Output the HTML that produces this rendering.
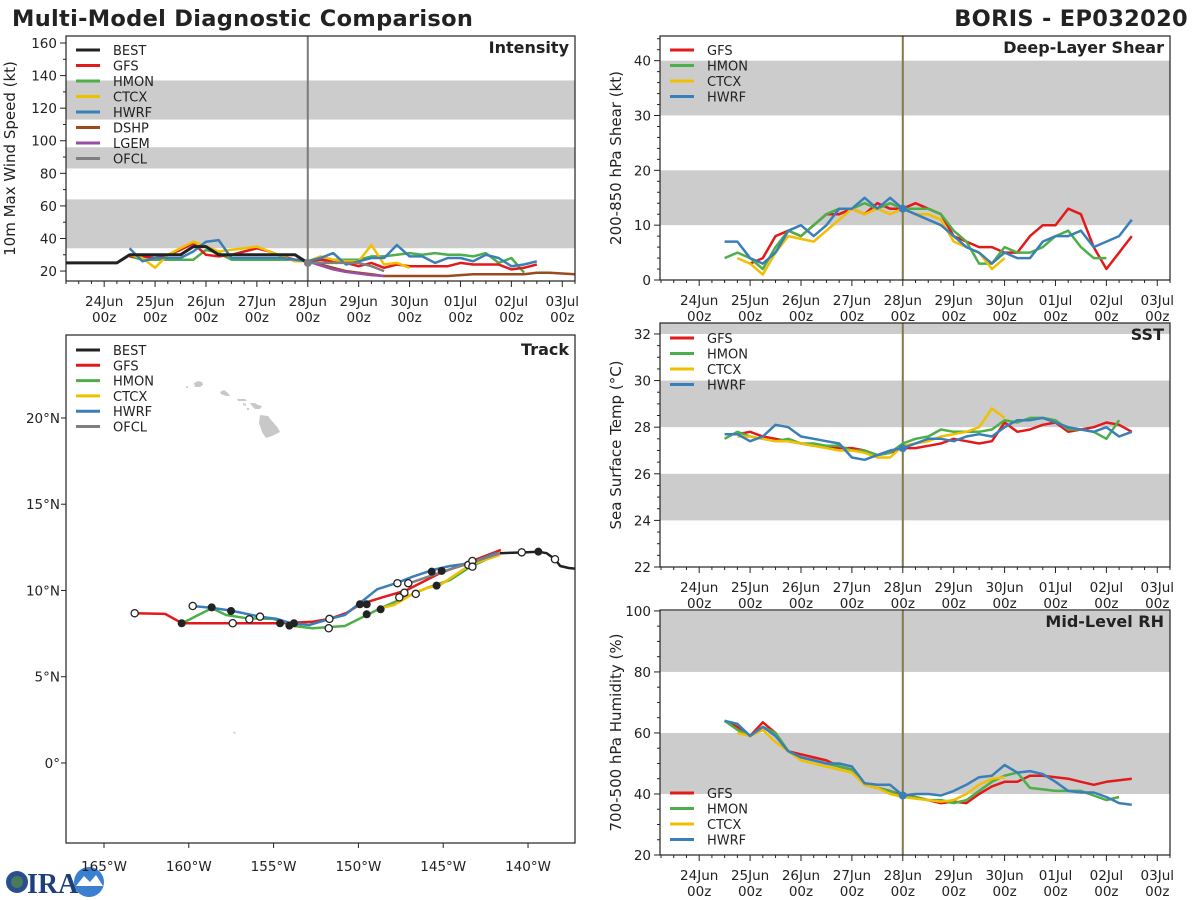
<!DOCTYPE html>
<html><head><meta charset="utf-8"><style>
html,body{margin:0;padding:0;background:#fff;}
svg{display:block;font-family:"DejaVu Sans","Liberation Sans",sans-serif;}
</style></head><body>
<svg id="c" width="1200" height="900" viewBox="0 0 1200 900" xmlns="http://www.w3.org/2000/svg">
<text x="12" y="26" font-size="22.5" font-weight="bold" fill="#222" letter-spacing="0.3">Multi-Model Diagnostic Comparison</text>
<text x="1188" y="26" font-size="22.5" font-weight="bold" fill="#222" text-anchor="end" letter-spacing="0.3">BORIS - EP032020</text>
<g>
<circle cx="17" cy="882" r="11" fill="#2a4f8f"/><circle cx="17" cy="882" r="6" fill="#4a7a5a"/>
<text x="27" y="893" font-size="28" font-weight="bold" fill="#1e3f7a" font-family="Liberation Serif,serif">IRA</text>
<circle cx="89" cy="882" r="15" fill="#3b7fd0"/><path d="M76 886 L84 876 L90 882 L96 875 L103 886 Z" fill="#fff"/>
</g>
</svg>
<script>
// ---------- DATA ----------
const dayLabels=["24Jun","25Jun","26Jun","27Jun","28Jun","29Jun","30Jun","01Jul","02Jul","03Jul"];
const modelNames=["BEST","GFS","HMON","CTCX","HWRF","DSHP","LGEM","OFCL"];
const modelColors={BEST:"#222222",GFS:"#e31a1c",HMON:"#4daf4a",CTCX:"#f2bf00",HWRF:"#3a7fb8",DSHP:"#9a4a1e",LGEM:"#984ea3",OFCL:"#7f7f7f"};
// intensity (kt), series step = 6h, [start day, values]
const intBEST=[-0.75,[25,25,25,25,25,30,30,30,30,30,35,35,30,30,30,30,30,30,30,25]];
const intGFS=[0.5,[29,29,28,30,33,37,30,29,30,32,34,32,29,27,26,27,26,25,23,25,22,24,23,23,23,23,25,24,24,24,21,22,24]];
const intHMON=[0.5,[29,27,27,27,27,27,33,31,27,27,27,27,27,27,26,27,27,27,27,29,29,30,31,30,31,30,30,29,31,25,28,19]];
const intCTCX=[0.5,[30,28,22,30,34,38,35,32,33,34,35,32,29,26,26,29,27,26,26,36,24,25,22]];
const intHWRF=[0.5,[34,26,28,28,28,32,38,39,28,28,28,28,28,27,26,28,31,24,26,28,28,36,29,29,25,28,28,26,30,28,23,24,26]];
const intDSHP=[4,[26,24,22,20,19,18,17,17,17,17,17,17,17.5,18,18,18,18,18,19,19,18.5,18,18,19,20,20,20]];
const intLGEM=[4,[26,23.5,21,19.5,18.5,17.5,17]];
const intOFCL=[4,[25,25,25,25,25,23,20]];
// shear (kt)
const shrGFS=[1,[3,4,8,9,8,10,12,12,13,12,14,13,13,14,13,12,8,7,6,6,5,5,8,10,10,13,12,6,2,5,8]];
const shrHMON=[0.5,[4,5,4,2,6,9,8,10,12,13,13,14,13,14,13,13,13,12,9,7,3,3,6,5,5,6,8,9,6,4,4]];
const shrCTCX=[0.75,[4,3,1,5,8,7.5,7,9,11,13,12,13,12,13,12,12,11,7,6,5,2,4]];
const shrHWRF=[0.5,[7,7,4,3,5,9,10,8,10,13,13,15,13,15,13,12,11,10,8,6,5,3,5,4,4,7,8,8,9,6,7,8,11]];
// SST (C)
const sstGFS=[0.75,[27.7,27.8,27.6,27.5,27.4,27.3,27.2,27.2,27.1,27.1,27.0,26.8,26.9,27.1,27.1,27.2,27.3,27.5,27.4,27.3,27.4,28.2,27.8,27.9,28.1,28.2,27.8,27.9,28.0,28.2,28.1,27.8]];
const sstHMON=[0.5,[27.5,27.8,27.6,27.5,27.4,27.5,27.3,27.3,27.2,27.2,27.0,27.0,26.8,26.9,27.3,27.5,27.6,27.9,27.8,27.8,27.8,27.9,28.3,28.2,28.4,28.4,28.3,27.9,27.9,27.8,27.5,28.3]];
const sstCTCX=[0.75,[27.6,27.6,27.5,27.4,27.4,27.3,27.2,27.1,27.0,27.0,26.9,26.7,26.7,27.2,27.3,27.4,27.6,27.7,27.8,28.0,28.8,28.4]];
const sstHWRF=[0.5,[27.7,27.7,27.4,27.6,28.1,28.0,27.6,27.5,27.4,27.3,26.7,26.6,26.8,27.0,27.1,27.3,27.5,27.5,27.4,27.6,27.7,27.6,28.0,28.3,28.3,28.4,28.2,28.0,27.9,27.8,28.0,27.6,27.8]];
// RH (%)
const rhGFS=[0.5,[64,62,59,63.5,60,54,53,52,51,49,48,43,42,41,39.5,39,38,37,37.5,37,40,42.5,44,44,46,46,45.5,45,44,43,44,44.5,45]];
const rhHMON=[0.5,[64,61,59,62,60,54,52,51,50,49,48,43,42,41,39,39,38,38,37,38,41,44,46,47,42,41.5,41,41,41,39.5,38,39]];
const rhCTCX=[0.75,[60,59,61,57,54,51,50,49,48,47,43,42,40,39,38.5,38,37.5,38,40,43,45,45.5]];
const rhHWRF=[0.5,[64,63,59,62,59,54,52,51,50,50,49,43.5,43,43,39.5,40,40,39.5,41,43,45.5,46,49.5,47,47.5,46.5,44,41,40.5,40.5,39,37,36.5]];
// track (lon, lat)
const trkGFS=[[-163.2,8.68],[-161.4,8.64],[-160.4,8.1],[-154.6,8.1],[-153.9,8.13],[-152.7,8.19],[-151.7,8.35],[-150.7,8.7],[-149.9,9.2],[-148.7,9.57],[-147.2,10.0],[-145.2,11.0],[-143.4,11.67],[-141.6,12.35]];
const trkHWRF=[[-159.8,9.1],[-158.7,9.0],[-157.5,8.83],[-155.8,8.48],[-154.8,8.35],[-154.0,8.1],[-152.9,8.0],[-151.7,8.35],[-150.8,8.58],[-149.9,9.28],[-148.9,10.07],[-147.7,10.45],[-146.8,10.8],[-145.6,11.19],[-144.6,11.42],[-143.4,11.58],[-141.85,12.19]];
const trkHMON=[[-160.4,8.1],[-158.65,8.97],[-157.8,8.58],[-156.6,8.39],[-155.0,8.35],[-153.8,7.94],[-152.7,7.81],[-150.8,7.94],[-149.5,8.58],[-148.7,8.97],[-147.35,9.55],[-146.0,10.13],[-144.6,10.6],[-143.4,11.38],[-141.65,12.16]];
const trkCTCX=[[-148.7,8.97],[-147.9,9.16],[-146.8,9.8],[-146.0,10.13],[-145.2,10.3],[-143.4,11.5],[-141.65,12.06]];
const trkOFCL=[[-147.05,10.4],[-145.2,11.03],[-143.4,11.6],[-141.65,12.16]];
const trkBEST=[[-141.65,12.16],[-140.4,12.2],[-139.4,12.25],[-138.9,12.16],[-138.4,11.8],[-138.1,11.42],[-137.6,11.3],[-136.5,11.2]];
const trkOpen=[[-163.19,8.68],[-159.77,9.10],[-157.41,8.10],[-156.43,8.33],[-155.80,8.48],[-151.71,8.35],[-151.75,7.81],[-147.70,10.42],[-147.06,10.42],[-147.29,9.87],[-147.59,9.60],[-146.62,9.80],[-143.52,11.48],[-143.28,11.71],[-143.28,11.38],[-140.37,12.21],[-138.41,11.81]];
const trkFilled=[[-160.42,8.10],[-158.65,9.02],[-157.51,8.81],[-154.62,8.10],[-154.07,7.96],[-153.80,8.10],[-149.91,9.20],[-149.51,9.20],[-149.51,8.62],[-148.69,8.91],[-145.68,11.09],[-145.09,11.13],[-145.39,10.28],[-139.39,12.25]];
const lonTicks=[-165,-160,-155,-150,-145,-140];
const latTicks=[0,5,10,15,20];

// ---------- DRAW ----------
const NS="http://www.w3.org/2000/svg";
const svg=document.getElementById('c');
function mk(tag,attrs,parent){const e=document.createElementNS(NS,tag);for(const k in attrs)e.setAttribute(k,attrs[k]);(parent||svg).appendChild(e);return e;}
function txt(s,attrs,parent){const e=mk('text',attrs,parent);e.textContent=s;return e;}

function panel(P){
  const g=mk('g',{});
  
  
  const X=d=>P.x0+(d-P.d0)*(P.x1-P.x0)/(P.d1-P.d0);
  const Y=v=>P.y1-(v-P.v0)*(P.y1-P.y0)/(P.v1-P.v0);
  const cid='clip-'+P.name;
  const cp=mk('clipPath',{id:cid},g);mk('rect',{x:P.x0,y:P.y0,width:P.x1-P.x0,height:P.y1-P.y0},cp);
  P.bands.forEach(b=>{
    const r=mk('rect',{x:P.x0,y:Y(Math.min(b[1],P.v1)),width:P.x1-P.x0,height:Y(b[0])-Y(Math.min(b[1],P.v1)),fill:'#cccccc'},g);
    
    
  });
  const vl=mk('line',{x1:X(4),x2:X(4),y1:P.y0,y2:P.y1,stroke:P.vcol,'stroke-width':2},g);
  
  
  const sg=mk('g',{'clip-path':'url(#'+cid+')'},g);
  P.series.forEach(s=>{
    const [d0,vals]=s.data;
    const pts=vals.map((v,i)=>X(d0+i*0.25).toFixed(1)+','+Y(v).toFixed(1)).join(' ');
    const pl=mk('polyline',{points:pts,fill:'none',stroke:modelColors[s.m],'stroke-width':s.m==='BEST'?3:2.5,'stroke-linejoin':'round'},sg);
    
    
  });
  if(P.dot){const c=mk('circle',{cx:X(4),cy:Y(P.dot[0]),r:4,fill:P.dot[1]},g);
    
    }
  mk('rect',{x:P.x0,y:P.y0,width:P.x1-P.x0,height:P.y1-P.y0,fill:'none',stroke:'#222','stroke-width':1.2},g);
  for(let q=Math.ceil(P.d0*4);q<=P.d1*4;q++){const d=q/4,x=X(d);const maj=q%4===0;
    mk('line',{x1:x,x2:x,y1:P.y1,y2:P.y1+(maj?6:3),stroke:'#222'},g);
    if(maj){const i=q/4;const t=txt(dayLabels[i],{x:x,y:P.y1+25,'font-size':13.5,'text-anchor':'middle',fill:'#222'},g);
      
      
      txt('00z',{x:x,y:P.y1+41,'font-size':13.5,'text-anchor':'middle',fill:'#222'},g);}
  }
  for(let v=Math.ceil(P.v0/P.minor)*P.minor;v<=P.v1;v+=P.minor){const y=Y(v);const maj=Math.abs(v/P.major-Math.round(v/P.major))<1e-6;
    mk('line',{x1:P.x0,x2:P.x0-(maj?6:3),y1:y,y2:y,stroke:'#222'},g);
    if(maj){const t=txt(String(v),{x:P.x0-9,y:y+5,'font-size':13.5,'text-anchor':'end',fill:'#222'},g);
      
      }
  }
  const yl=txt(P.ylab,{x:0,y:0,'font-size':15,'text-anchor':'middle',fill:'#222',transform:`translate(${P.ylx},${(P.y0+P.y1)/2}) rotate(-90)`},g);
  
  
  const tt=txt(P.title,{x:P.x1-6,y:P.y0+17,'font-size':16,'font-weight':'bold','text-anchor':'end',fill:'#222'},g);
  
  
  P.legend.forEach((m,i)=>{const ly=P.legY+i*15.5;
    const lg=mk('g',{},g);
    
    
    mk('line',{x1:P.x0+10,x2:P.x0+34,y1:ly,y2:ly,stroke:modelColors[m],'stroke-width':3},lg);
    txt(m,{x:P.x0+47,y:ly+5,'font-size':13,fill:'#222'},lg);
  });
}

panel({name:'intensity-panel',x0:66,x1:575,y0:36,y1:281,d0:-0.75,d1:9.25,v0:13.9,v1:164.3,
  bands:[[34,64],[83,96],[113,137]],vcol:'#7f7a78',major:20,minor:10,
  ylab:'10m Max Wind Speed (kt)',ylx:15,title:'Intensity',legY:50,legend:modelNames,
  series:[{m:'DSHP',data:intDSHP},{m:'LGEM',data:intLGEM},{m:'HMON',data:intHMON},{m:'GFS',data:intGFS},{m:'CTCX',data:intCTCX},{m:'HWRF',data:intHWRF},{m:'OFCL',data:intOFCL},{m:'BEST',data:intBEST}],
  dot:[25,'#7f7f7f']});
panel({name:'shear-panel',x0:660,x1:1170,y0:36,y1:280,d0:-0.77,d1:9.25,v0:0,v1:44.5,
  bands:[[10,20],[30,40]],vcol:'#7f7a4a',major:10,minor:2,
  ylab:'200-850 hPa Shear (kt)',ylx:621,title:'Deep-Layer Shear',legY:50,legend:["GFS","HMON","CTCX","HWRF"],
  series:[{m:'GFS',data:shrGFS},{m:'HMON',data:shrHMON},{m:'CTCX',data:shrCTCX},{m:'HWRF',data:shrHWRF}],
  dot:[13,'#3a7fb8']});
panel({name:'sst-panel',x0:660,x1:1170,y0:323,y1:567,d0:-0.77,d1:9.25,v0:22,v1:32.47,
  bands:[[24,26],[28,30],[32,34]],vcol:'#7f7a4a',major:2,minor:0.5,
  ylab:'Sea Surface Temp (°C)',ylx:621,title:'SST',legY:338,legend:["GFS","HMON","CTCX","HWRF"],
  series:[{m:'GFS',data:sstGFS},{m:'HMON',data:sstHMON},{m:'CTCX',data:sstCTCX},{m:'HWRF',data:sstHWRF}],
  dot:[27.1,'#3a7fb8']});
panel({name:'rh-panel',x0:660,x1:1170,y0:610,y1:855,d0:-0.77,d1:9.25,v0:20,v1:100.3,
  bands:[[40,60],[80,100]],vcol:'#7f7a4a',major:20,minor:5,
  ylab:'700-500 hPa Humidity (%)',ylx:621,title:'Mid-Level RH',legY:793,legend:["GFS","HMON","CTCX","HWRF"],
  series:[{m:'GFS',data:rhGFS},{m:'HMON',data:rhHMON},{m:'CTCX',data:rhCTCX},{m:'HWRF',data:rhHWRF}],
  dot:[39.5,'#3a7fb8']});

(function(){
  const T={x0:66,x1:575,y0:335,y1:843,lon0:-167.24,lon1:-137.23,lat0:-4.64,lat1:24.81};
  const g=mk('g',{});
  
  
  const X=l=>T.x0+(l-T.lon0)*(T.x1-T.x0)/(T.lon1-T.lon0);
  const Y=l=>T.y1-(l-T.lat0)*(T.y1-T.y0)/(T.lat1-T.lat0);
  const cp=mk('clipPath',{id:'clip-track'},g);mk('rect',{x:T.x0,y:T.y0,width:T.x1-T.x0,height:T.y1-T.y0},cp);
  const land=mk('g',{fill:'#c8c8c8'},g);
  
  
  mk('path',{d:'M194 383 l4-2 4 1 1 3-3 2-5 0z'},land);
  mk('circle',{cx:187,cy:387,r:1},land);
  mk('path',{d:'M220 392 l4-2 4 3 2 3-4 0-5-2z'},land);
  mk('path',{d:'M237 399 l8 0 2 2-9 0z'},land);
  mk('path',{d:'M243 403 l3 1 0 2-3-1z'},land);
  mk('path',{d:'M250 403 l5 0 3 2 4 1-2 3-5 0-3-3z'},land);
  mk('circle',{cx:248,cy:409,r:1.2},land);
  mk('path',{d:'M260 415 l8 1 4 5 6 7 2 4-8 4-6 2-4-6-3-9z'},land);
  mk('path',{d:'M233 731 l3 2 -2 1z'},land);
  const sg=mk('g',{'clip-path':'url(#clip-track)'},g);
  const tracks=[['HMON',trkHMON],['CTCX',trkCTCX],['GFS',trkGFS],['HWRF',trkHWRF],['OFCL',trkOFCL],['BEST',trkBEST]];
  tracks.forEach(([m,arr])=>{
    const pl=mk('polyline',{points:arr.map(p=>X(p[0]).toFixed(1)+','+Y(p[1]).toFixed(1)).join(' '),fill:'none',stroke:modelColors[m],'stroke-width':2.5,'stroke-linejoin':'round'},sg);
    
    
  });
  trkFilled.forEach(p=>{const c=mk('circle',{cx:X(p[0]),cy:Y(p[1]),r:4,fill:'#222'},sg);
    
    });
  trkOpen.forEach(p=>{const c=mk('circle',{cx:X(p[0]),cy:Y(p[1]),r:3.6,fill:'#fff',stroke:'#222','stroke-width':1.3},sg);
    
    });
  mk('rect',{x:T.x0,y:T.y0,width:T.x1-T.x0,height:T.y1-T.y0,fill:'none',stroke:'#222','stroke-width':1.2},g);
  lonTicks.forEach(l=>{const x=X(l);mk('line',{x1:x,x2:x,y1:T.y1,y2:T.y1+5,stroke:'#222'},g);
    const t=txt(Math.abs(l)+'°W',{x:x,y:T.y1+28,'font-size':13.5,'text-anchor':'middle',fill:'#222'},g);
    
    });
  latTicks.forEach(l=>{const y=Y(l);mk('line',{x1:T.x0,x2:T.x0-5,y1:y,y2:y,stroke:'#222'},g);
    const t=txt(l===0?'0°':l+'°N',{x:T.x0-6,y:y+5,'font-size':13.5,'text-anchor':'end',fill:'#222'},g);
    
    });
  const tt=txt('Track',{x:T.x1-6,y:T.y0+20,'font-size':16,'font-weight':'bold','text-anchor':'end',fill:'#222'},g);
  
  
  ["BEST","GFS","HMON","CTCX","HWRF","OFCL"].forEach((m,i)=>{const ly=350+i*15.3;
    const lg=mk('g',{},g);
    
    
    mk('line',{x1:T.x0+10,x2:T.x0+34,y1:ly,y2:ly,stroke:modelColors[m],'stroke-width':3},lg);
    txt(m,{x:T.x0+47,y:ly+5,'font-size':13,fill:'#222'},lg);
  });
})();
</script>
</body></html>
